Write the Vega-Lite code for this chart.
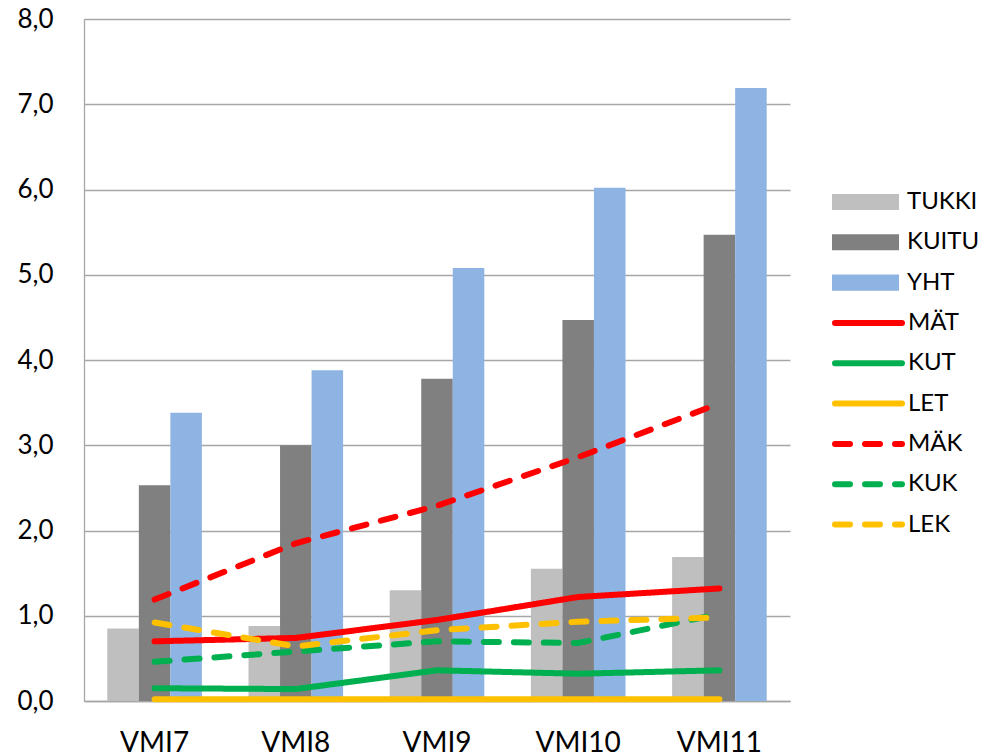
{
  "$schema": "https://vega.github.io/schema/vega-lite/v6.json",
  "autosize": {"type": "none"},
  "width": 706,
  "height": 682,
  "padding": {"left": 84, "top": 19, "right": 192, "bottom": 55},
  "background": "white",
  "config": {
    "font": "Lato",
    "view": {"stroke": null},
    "axis": {"labelFont": "Lato", "labelColor": "#000000", "domainColor": "#A6A6A6", "gridColor": "#A6A6A6", "domainWidth": 1.3, "gridWidth": 1.3, "ticks": false, "title": null}
  },
  "datasets": {
    "bars": [
      {"cat": "VMI7", "series": "TUKKI", "value": 0.85},
      {"cat": "VMI7", "series": "KUITU", "value": 2.53},
      {"cat": "VMI7", "series": "YHT", "value": 3.38},
      {"cat": "VMI8", "series": "TUKKI", "value": 0.88},
      {"cat": "VMI8", "series": "KUITU", "value": 3.0},
      {"cat": "VMI8", "series": "YHT", "value": 3.88},
      {"cat": "VMI9", "series": "TUKKI", "value": 1.3},
      {"cat": "VMI9", "series": "KUITU", "value": 3.78},
      {"cat": "VMI9", "series": "YHT", "value": 5.08},
      {"cat": "VMI10", "series": "TUKKI", "value": 1.55},
      {"cat": "VMI10", "series": "KUITU", "value": 4.47},
      {"cat": "VMI10", "series": "YHT", "value": 6.02},
      {"cat": "VMI11", "series": "TUKKI", "value": 1.69},
      {"cat": "VMI11", "series": "KUITU", "value": 5.47},
      {"cat": "VMI11", "series": "YHT", "value": 7.19}
    ],
    "lines": [
      {"cat": "VMI7", "series": "MÄT", "value": 0.7},
      {"cat": "VMI8", "series": "MÄT", "value": 0.74},
      {"cat": "VMI9", "series": "MÄT", "value": 0.95},
      {"cat": "VMI10", "series": "MÄT", "value": 1.22},
      {"cat": "VMI11", "series": "MÄT", "value": 1.32},
      {"cat": "VMI7", "series": "KUT", "value": 0.15},
      {"cat": "VMI8", "series": "KUT", "value": 0.14},
      {"cat": "VMI9", "series": "KUT", "value": 0.36},
      {"cat": "VMI10", "series": "KUT", "value": 0.32},
      {"cat": "VMI11", "series": "KUT", "value": 0.36},
      {"cat": "VMI7", "series": "LET", "value": 0.02},
      {"cat": "VMI8", "series": "LET", "value": 0.02},
      {"cat": "VMI9", "series": "LET", "value": 0.02},
      {"cat": "VMI10", "series": "LET", "value": 0.02},
      {"cat": "VMI11", "series": "LET", "value": 0.02},
      {"cat": "VMI7", "series": "MÄK", "value": 1.19},
      {"cat": "VMI8", "series": "MÄK", "value": 1.85},
      {"cat": "VMI9", "series": "MÄK", "value": 2.29},
      {"cat": "VMI10", "series": "MÄK", "value": 2.86},
      {"cat": "VMI11", "series": "MÄK", "value": 3.49},
      {"cat": "VMI7", "series": "KUK", "value": 0.46},
      {"cat": "VMI8", "series": "KUK", "value": 0.58},
      {"cat": "VMI9", "series": "KUK", "value": 0.7},
      {"cat": "VMI10", "series": "KUK", "value": 0.68},
      {"cat": "VMI11", "series": "KUK", "value": 1.02},
      {"cat": "VMI7", "series": "LEK", "value": 0.92},
      {"cat": "VMI8", "series": "LEK", "value": 0.64},
      {"cat": "VMI9", "series": "LEK", "value": 0.83},
      {"cat": "VMI10", "series": "LEK", "value": 0.93},
      {"cat": "VMI11", "series": "LEK", "value": 0.98}
    ]
  },
  "encoding": {
    "x": {
      "field": "cat", "type": "nominal",
      "sort": ["VMI7", "VMI8", "VMI9", "VMI10", "VMI11"],
      "scale": {"paddingInner": 0.33, "paddingOuter": 0.165},
      "axis": {"labelAngle": 0, "labelFontSize": 28, "labelPadding": 28, "grid": false, "domain": true}
    },
    "y": {
      "field": "value", "type": "quantitative",
      "scale": {"domain": [0, 8], "nice": false},
      "axis": {"values": [0, 1, 2, 3, 4, 5, 6, 7, 8], "labelFontSize": 26, "labelPadding": 31, "grid": true, "domain": true,
        "labelExpr": "replace(format(datum.value, '.1f'), '.', ',')"}
    }
  },
  "layer": [
    {
      "data": {"name": "bars"},
      "mark": {"type": "bar"},
      "encoding": {
        "xOffset": {"field": "series", "type": "nominal", "sort": ["TUKKI", "KUITU", "YHT"], "scale": {"paddingInner": 0, "paddingOuter": 0}},
        "fill": {
          "field": "series", "type": "nominal",
          "scale": {"domain": ["TUKKI", "KUITU", "YHT"], "range": ["#BFBFBF", "#808080", "#8EB4E3"]},
          "legend": {
            "orient": "none", "legendX": 748, "legendY": 163, "title": null, "padding": 0, "clipHeight": 40,
            "symbolType": "M-1,-0.24H1V0.24H-1Z", "symbolSize": 4489, "symbolStrokeWidth": 0,
            "labelFont": "Lato", "labelFontSize": 24, "labelColor": "#000000", "labelOffset": 8, "rowPadding": 0.3
          }
        }
      }
    },
    {
      "data": {"name": "lines"},
      "mark": {"type": "line", "strokeWidth": 6, "strokeCap": "round", "strokeJoin": "round"},
      "encoding": {
        "detail": {"field": "series", "type": "nominal"},
        "stroke": {
          "field": "series", "type": "nominal",
          "scale": {"domain": ["MÄT", "KUT", "LET", "MÄK", "KUK", "LEK"], "range": ["#FF0000", "#00B050", "#FFC000", "#FF0000", "#00B050", "#FFC000"]},
          "legend": {
            "orient": "none", "legendX": 748, "legendY": 284, "title": null, "padding": 0, "clipHeight": 40,
            "symbolType": "stroke", "symbolSize": 4489, "symbolStrokeWidth": 6,
            "labelFont": "Lato", "labelFontSize": 24, "labelColor": "#000000", "labelOffset": 3, "rowPadding": 0.3,
            "encode": {"symbols": {"update": {"strokeCap": {"value": "round"}}}}
          }
        },
        "strokeDash": {
          "field": "series", "type": "nominal",
          "scale": {"domain": ["MÄT", "KUT", "LET", "MÄK", "KUK", "LEK"], "range": [[1, 0], [1, 0], [1, 0], [15, 15], [15, 15], [15, 15]]},
          "legend": {
            "orient": "none", "legendX": 748, "legendY": 284, "title": null, "padding": 0, "clipHeight": 40,
            "symbolType": "stroke", "symbolSize": 4489, "symbolStrokeWidth": 6,
            "labelFont": "Lato", "labelFontSize": 24, "labelColor": "#000000", "labelOffset": 3, "rowPadding": 0.3,
            "encode": {"symbols": {"update": {"strokeCap": {"value": "round"}}}}
          }
        }
      }
    }
  ]
}
